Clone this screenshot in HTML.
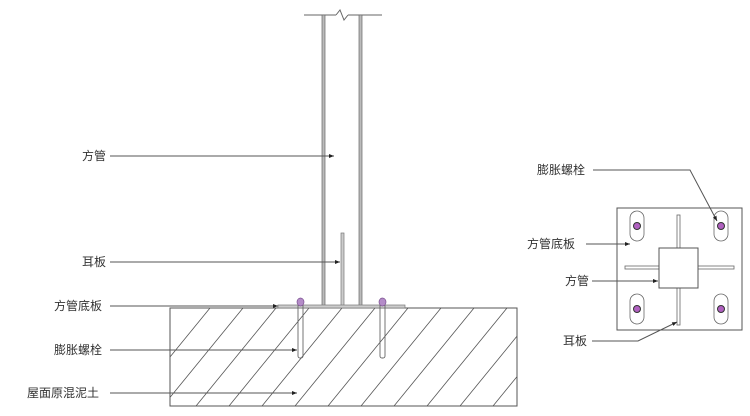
<!DOCTYPE html>
<html><head><meta charset="utf-8"><style>
html,body{margin:0;padding:0;background:#fff;}
svg{display:block;}
text{font-family:"Liberation Sans","Noto Sans CJK SC",sans-serif;font-size:12px;fill:#333;}
</style></head><body>
<svg width="750" height="416" viewBox="0 0 750 416" xmlns="http://www.w3.org/2000/svg">
<defs>
<clipPath id="slab"><rect x="170" y="308" width="347" height="98"/></clipPath>
<marker id="ar" markerWidth="6" markerHeight="6" refX="5" refY="3" orient="auto"><path d="M0,1 L5,3 L0,5z" fill="#222"/></marker>
</defs>
<!-- slab hatch -->
<g clip-path="url(#slab)" stroke="#555" stroke-width="0.8">
<line x1="130" y1="406" x2="210" y2="308"/><line x1="163" y1="406" x2="243" y2="308"/>
<line x1="196" y1="406" x2="276" y2="308"/><line x1="229" y1="406" x2="309" y2="308"/>
<line x1="262" y1="406" x2="342" y2="308"/><line x1="295" y1="406" x2="375" y2="308"/>
<line x1="328" y1="406" x2="408" y2="308"/><line x1="361" y1="406" x2="441" y2="308"/>
<line x1="394" y1="406" x2="474" y2="308"/><line x1="427" y1="406" x2="507" y2="308"/>
<line x1="460" y1="406" x2="540" y2="308"/><line x1="493" y1="406" x2="573" y2="308"/>
</g>
<rect x="170" y="308" width="347" height="98" fill="none" stroke="#555" stroke-width="1"/>
<!-- tube -->
<line x1="304" y1="15" x2="336" y2="15" stroke="#666"/><polyline points="336,15 340,10 344,20 348,15" fill="none" stroke="#666"/><line x1="348" y1="15" x2="382" y2="15" stroke="#666"/>
<rect x="322" y="15" width="3" height="291" fill="#bbb" stroke="#666" stroke-width="0.7"/>
<rect x="359" y="15" width="3" height="291" fill="#bbb" stroke="#666" stroke-width="0.7"/>
<rect x="341" y="233" width="3" height="73" fill="#ccc" stroke="#777" stroke-width="0.7"/>
<rect x="278" y="305" width="127" height="3" fill="#ccc" stroke="#777" stroke-width="0.7"/>
<!-- bolts -->
<g stroke="#666" fill="none" stroke-width="0.9">
<rect x="298" y="304" width="5" height="54" rx="2"/><rect x="380" y="304" width="5" height="54" rx="2"/>
</g>
<g fill="#b48cc8" stroke="#7a4f8f" stroke-width="0.7">
<ellipse cx="300.5" cy="302" rx="3.5" ry="4"/><ellipse cx="382.5" cy="302" rx="3.5" ry="4"/>
</g>
<!-- left labels -->
<g stroke="#555" stroke-width="1" marker-end="url(#ar)">
<line x1="110" y1="156" x2="334" y2="156"/>
<line x1="110" y1="262" x2="340" y2="262"/>
<line x1="110" y1="306" x2="278" y2="306"/>
<line x1="110" y1="350" x2="297" y2="350"/>
<line x1="110" y1="393" x2="297" y2="393"/>
</g>
<text x="82" y="160">方管</text>
<text x="82" y="266">耳板</text>
<text x="54" y="310">方管底板</text>
<text x="54" y="354">膨胀螺栓</text>
<text x="27" y="397">屋面原混泥土</text>
<!-- right plan -->
<rect x="617" y="208" width="125" height="122" fill="none" stroke="#555"/>
<rect x="625" y="266" width="109" height="3" fill="#fff" stroke="#666" stroke-width="0.8"/>
<rect x="677" y="215" width="3" height="110" fill="#fff" stroke="#666" stroke-width="0.8"/>
<rect x="659" y="248" width="39" height="40" fill="#fff" stroke="#555"/>
<g fill="none" stroke="#666" stroke-width="0.8">
<rect x="630" y="211" width="14" height="30" rx="7"/><rect x="714" y="211" width="14" height="30" rx="7"/>
<rect x="630" y="294" width="14" height="30" rx="7"/><rect x="714" y="294" width="14" height="30" rx="7"/>
</g>
<g fill="#b060c0" stroke="#333" stroke-width="1">
<circle cx="637" cy="226" r="3.5"/><circle cx="721" cy="226" r="3.5"/>
<circle cx="637" cy="309" r="3.5"/><circle cx="721" cy="309" r="3.5"/>
</g>
<g stroke="#555" stroke-width="1" fill="none">
<polyline points="593,170 690,170 717,221" marker-end="url(#ar)"/>
<line x1="586" y1="244" x2="630" y2="244" marker-end="url(#ar)"/>
<line x1="592" y1="281" x2="658" y2="281" marker-end="url(#ar)"/>
<polyline points="592,341 638,341 677,322" marker-end="url(#ar)"/>
</g>
<text x="537" y="174">膨胀螺栓</text>
<text x="527" y="248">方管底板</text>
<text x="565" y="285">方管</text>
<text x="563" y="345">耳板</text>
</svg>
</body></html>
